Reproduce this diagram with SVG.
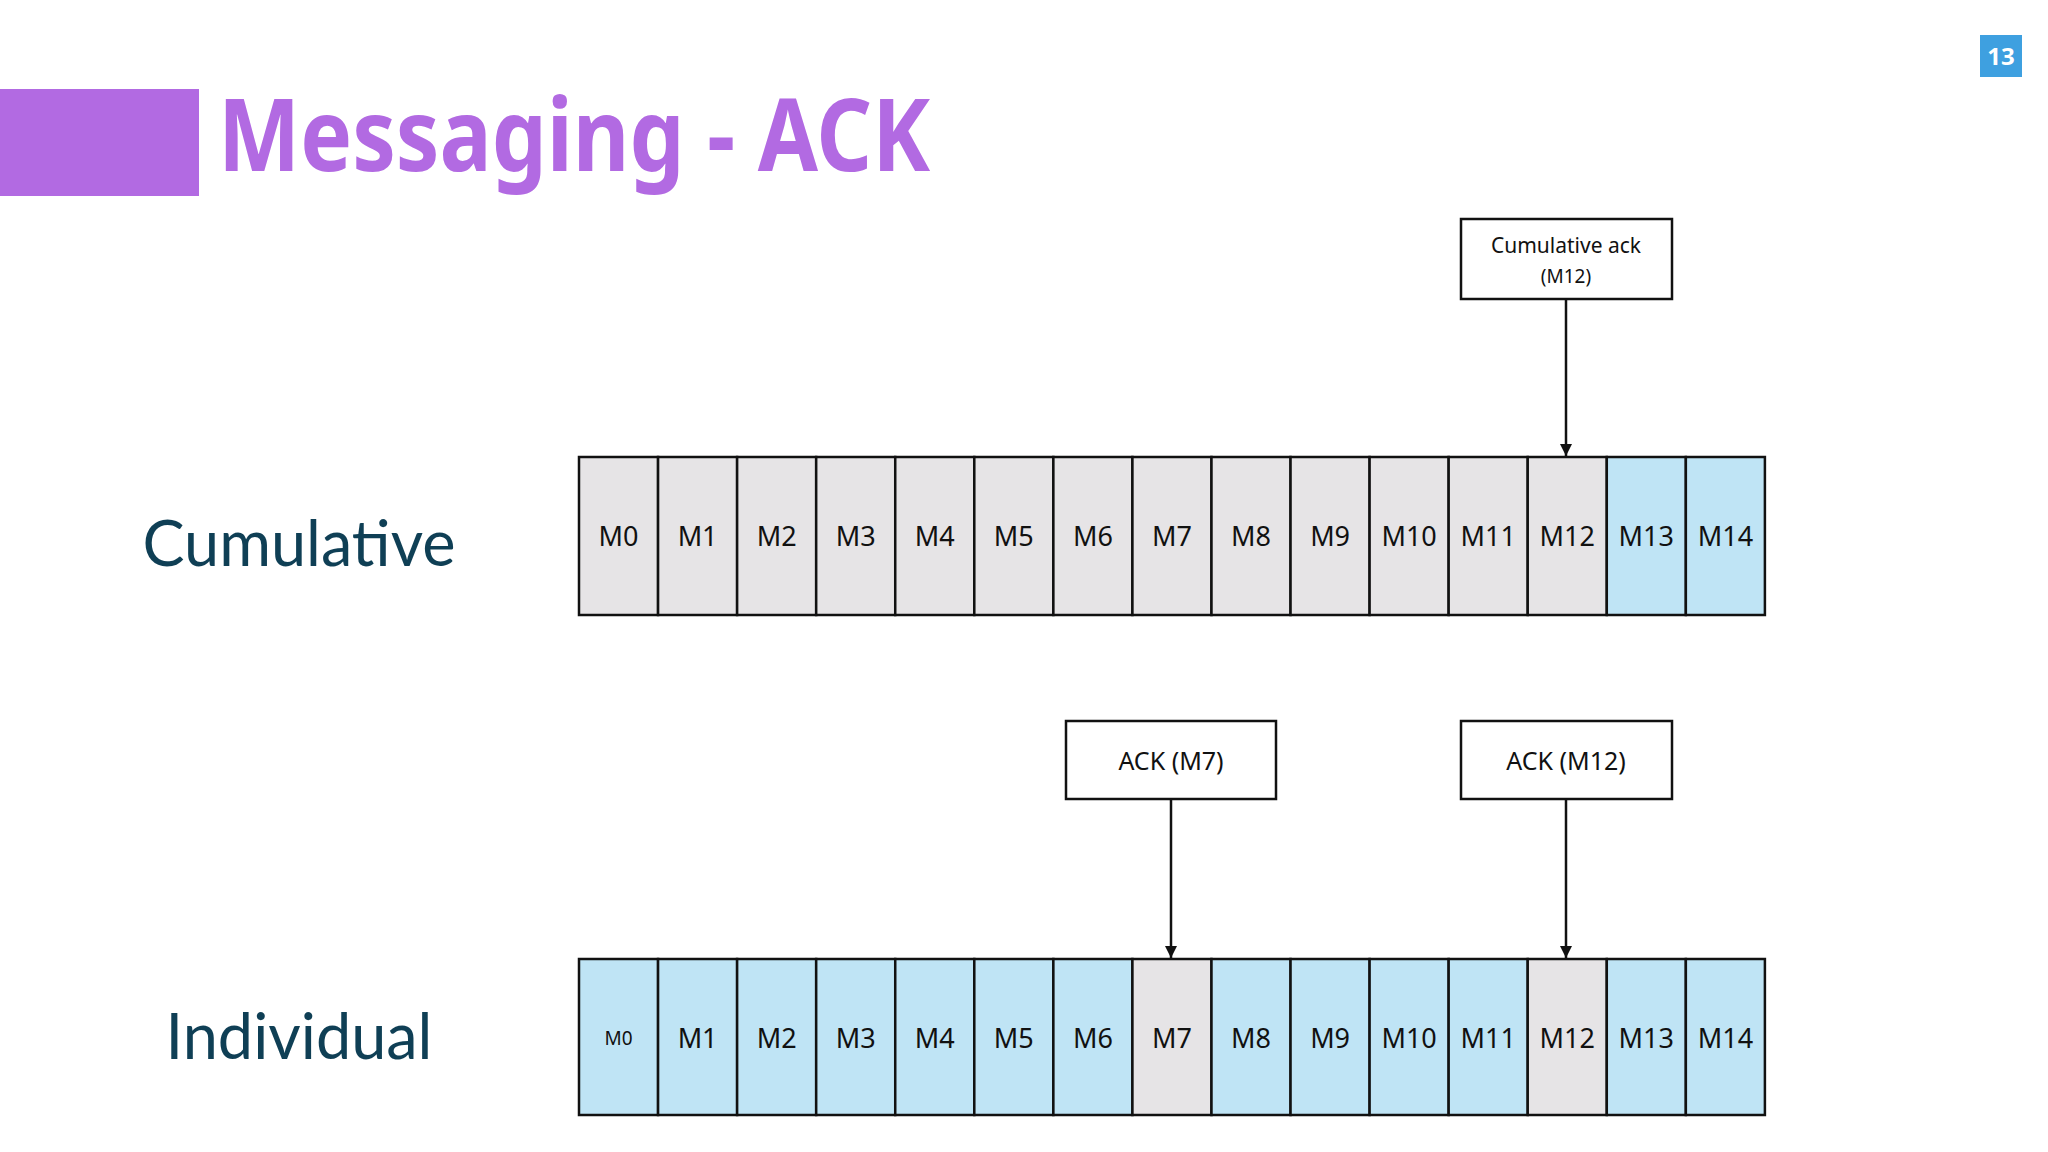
<svg xmlns="http://www.w3.org/2000/svg" width="2048" height="1152" viewBox="0 0 2048 1152">
<style>
.c{stroke:#111;stroke-width:2.5}
.g{fill:#e6e4e6}.b{fill:#bfe4f5}
.t{font-family:"Noto Sans","DejaVu Sans",sans-serif;font-size:27px;fill:#111;text-anchor:middle}
.bx{fill:#fff;stroke:#111;stroke-width:2.5}
.lb{font-family:"Noto Sans","DejaVu Sans",sans-serif;fill:#111;text-anchor:middle}
.side{font-family:Lato,"Noto Sans",sans-serif;font-size:63px;fill:#0f3f55;text-anchor:middle}
.e{stroke:#111;stroke-width:2.5;fill:none}
</style>
<defs><marker id="a2" viewBox="0 0 10 10" refX="10" refY="5" markerWidth="12" markerHeight="18" markerUnits="userSpaceOnUse" orient="auto"><path d="M0,0L10,5L0,10z" fill="#111"/></marker></defs>
<rect width="2048" height="1152" fill="#fff"/>
<g id="title">
<rect x="0" y="89" width="199" height="107" fill="#b26ae2"/>
<text x="218" y="171" font-family="'Noto Sans',sans-serif" font-weight="bold" font-size="100" fill="#b26ae2" textLength="712" lengthAdjust="spacingAndGlyphs">Messaging - ACK</text>
</g>
<g id="page"><rect x="1980" y="35" width="42" height="42" fill="#3ea0e0"/><text x="2001" y="65" font-family="'Noto Sans',sans-serif" font-weight="bold" font-size="24" fill="#fff" text-anchor="middle">13</text></g>
<g id="labels"><text class="side" x="299" y="566">Cumulative</text><text class="side" x="299" y="1059">Individual</text></g>
<g id="row1">
<rect class="c g" x="579" y="457" width="79.06" height="158"/><text class="t" x="618.5" y="546">M0</text>
<rect class="c g" x="658.06" y="457" width="79.06" height="158"/><text class="t" x="697.6" y="546">M1</text>
<rect class="c g" x="737.12" y="457" width="79.06" height="158"/><text class="t" x="776.7" y="546">M2</text>
<rect class="c g" x="816.18" y="457" width="79.06" height="158"/><text class="t" x="855.7" y="546">M3</text>
<rect class="c g" x="895.24" y="457" width="79.06" height="158"/><text class="t" x="934.8" y="546">M4</text>
<rect class="c g" x="974.3" y="457" width="79.06" height="158"/><text class="t" x="1013.8" y="546">M5</text>
<rect class="c g" x="1053.36" y="457" width="79.06" height="158"/><text class="t" x="1092.9" y="546">M6</text>
<rect class="c g" x="1132.42" y="457" width="79.06" height="158"/><text class="t" x="1172" y="546">M7</text>
<rect class="c g" x="1211.48" y="457" width="79.06" height="158"/><text class="t" x="1251" y="546">M8</text>
<rect class="c g" x="1290.54" y="457" width="79.06" height="158"/><text class="t" x="1330.1" y="546">M9</text>
<rect class="c g" x="1369.6" y="457" width="79.06" height="158"/><text class="t" x="1409.1" y="546">M10</text>
<rect class="c g" x="1448.66" y="457" width="79.06" height="158"/><text class="t" x="1488.2" y="546">M11</text>
<rect class="c g" x="1527.72" y="457" width="79.06" height="158"/><text class="t" x="1567.3" y="546">M12</text>
<rect class="c b" x="1606.78" y="457" width="79.06" height="158"/><text class="t" x="1646.3" y="546">M13</text>
<rect class="c b" x="1685.84" y="457" width="79.06" height="158"/><text class="t" x="1725.4" y="546">M14</text>
</g>
<g id="row2">
<rect class="c b" x="579" y="959" width="79.06" height="156"/><text class="t" x="618.5" y="1045" style="font-size:19px">M0</text>
<rect class="c b" x="658.06" y="959" width="79.06" height="156"/><text class="t" x="697.6" y="1048">M1</text>
<rect class="c b" x="737.12" y="959" width="79.06" height="156"/><text class="t" x="776.7" y="1048">M2</text>
<rect class="c b" x="816.18" y="959" width="79.06" height="156"/><text class="t" x="855.7" y="1048">M3</text>
<rect class="c b" x="895.24" y="959" width="79.06" height="156"/><text class="t" x="934.8" y="1048">M4</text>
<rect class="c b" x="974.3" y="959" width="79.06" height="156"/><text class="t" x="1013.8" y="1048">M5</text>
<rect class="c b" x="1053.36" y="959" width="79.06" height="156"/><text class="t" x="1092.9" y="1048">M6</text>
<rect class="c g" x="1132.42" y="959" width="79.06" height="156"/><text class="t" x="1172" y="1048">M7</text>
<rect class="c b" x="1211.48" y="959" width="79.06" height="156"/><text class="t" x="1251" y="1048">M8</text>
<rect class="c b" x="1290.54" y="959" width="79.06" height="156"/><text class="t" x="1330.1" y="1048">M9</text>
<rect class="c b" x="1369.6" y="959" width="79.06" height="156"/><text class="t" x="1409.1" y="1048">M10</text>
<rect class="c b" x="1448.66" y="959" width="79.06" height="156"/><text class="t" x="1488.2" y="1048">M11</text>
<rect class="c g" x="1527.72" y="959" width="79.06" height="156"/><text class="t" x="1567.3" y="1048">M12</text>
<rect class="c b" x="1606.78" y="959" width="79.06" height="156"/><text class="t" x="1646.3" y="1048">M13</text>
<rect class="c b" x="1685.84" y="959" width="79.06" height="156"/><text class="t" x="1725.4" y="1048">M14</text>
</g>
<g id="cumack"><rect class="bx" x="1461" y="219" width="211" height="80"/><text class="lb" x="1566" y="253" font-size="21">Cumulative ack</text><text class="lb" x="1566" y="283" font-size="19">(M12)</text></g>
<g id="ack7"><rect class="bx" x="1066" y="721" width="210" height="78"/><text class="lb" x="1171" y="770" font-size="25">ACK (M7)</text></g>
<g id="ack12"><rect class="bx" x="1461" y="721" width="211" height="78"/><text class="lb" x="1566" y="770" font-size="25">ACK (M12)</text></g>
<g id="connectors">
<line class="e" x1="1566" y1="299" x2="1566" y2="456" marker-end="url(#a2)"/>
<line class="e" x1="1171" y1="799" x2="1171" y2="958" marker-end="url(#a2)"/>
<line class="e" x1="1566" y1="799" x2="1566" y2="958" marker-end="url(#a2)"/>
</g>
</svg>
